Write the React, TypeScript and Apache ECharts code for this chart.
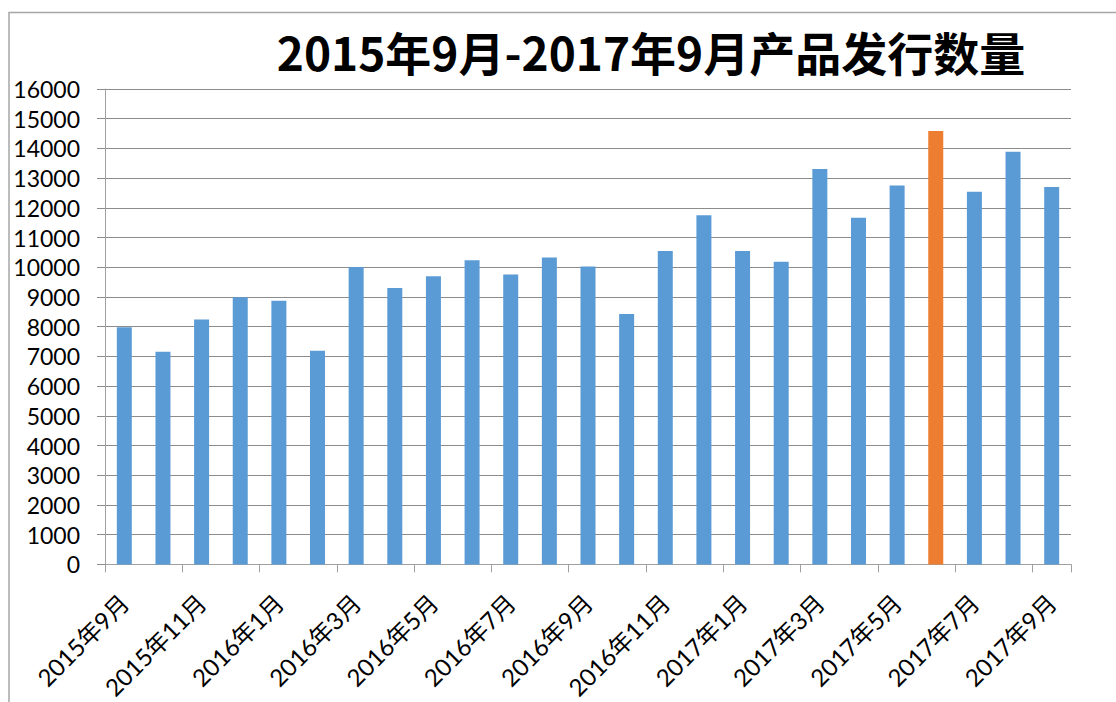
import React, { useEffect, useRef } from "react";
import * as echarts from "echarts";

const TITLE = "2015年9月-2017年9月产品发行数量";
const months: string[] = [
  "2015年9月", "2015年10月", "2015年11月", "2015年12月",
  "2016年1月", "2016年2月", "2016年3月", "2016年4月", "2016年5月", "2016年6月",
  "2016年7月", "2016年8月", "2016年9月", "2016年10月", "2016年11月", "2016年12月",
  "2017年1月", "2017年2月", "2017年3月", "2017年4月", "2017年5月", "2017年6月",
  "2017年7月", "2017年8月", "2017年9月",
];
const issued: number[] = [
  7980, 7160, 8240, 8990, 8870, 7190, 10010, 9300, 9700, 10240,
  9760, 10330, 10030, 8430, 10550, 11750, 10550, 10190, 13310, 11670,
  12750, 14590, 12540, 13890, 12700,
];
const highlightMonth = "2017年6月";
const yMin = 0;
const yMax = 16000;
const yStep = 1000;

const BLUE = "#5B9BD5";
const ORANGE = "#ED7D31";
const FONT = "Lato, 'Noto Sans CJK SC', sans-serif";

export default function App() {
  const ref = useRef<HTMLDivElement>(null);
  useEffect(() => {
    if (!ref.current) return;
    const chart = echarts.init(ref.current, undefined, { renderer: "svg" });
    chart.setOption({
      animation: false,
      backgroundColor: "#ffffff",
      graphic: [
        {
          type: "rect",
          shape: { x: 9, y: 12.5, width: 1300, height: 900 },
          style: { fill: "none", stroke: "#a6a6a6", lineWidth: 1.5 },
          silent: true,
        },
        {
          type: "text",
          x: 651,
          y: 51,
          style: {
            text: TITLE,
            fill: "#000",
            font: `bold 46px 'Noto Sans CJK SC', sans-serif`,
            textAlign: "center",
            textVerticalAlign: "middle",
          },
        },
      ],
      grid: { left: 105, right: 45, top: 89, bottom: 135, containLabel: false },
      xAxis: {
        type: "category",
        data: months,
        boundaryGap: true,
        axisLine: { show: true, lineStyle: { color: "#a0a0a0", width: 1 } },
        axisTick: { show: true, interval: 1, length: 8, lineStyle: { color: "#a0a0a0" } },
        axisLabel: {
          interval: 1,
          rotate: 45,
          margin: 34,
          color: "#000",
          fontSize: 24,
          fontFamily: FONT,
        },
        splitLine: { show: false },
      },
      yAxis: {
        type: "value",
        min: yMin,
        max: yMax,
        interval: yStep,
        axisLine: { show: true, lineStyle: { color: "#a0a0a0", width: 1 } },
        axisTick: { show: true, length: 8, lineStyle: { color: "#8c8c8c" } },
        axisLabel: {
          color: "#000",
          fontSize: 23,
          fontFamily: FONT,
          margin: 25,
          formatter: (v: number) => String(v),
        },
        splitLine: { show: true, lineStyle: { color: "#8c8c8c", width: 1 } },
      },
      series: [
        {
          type: "bar",
          barWidth: 15,
          data: issued.map((v, i) => ({
            value: v,
            itemStyle: { color: months[i] === highlightMonth ? ORANGE : BLUE },
          })),
        },
      ],
    });
    return () => chart.dispose();
  }, []);
  return (
    <div
      ref={ref}
      style={{ position: "fixed", left: 0, top: 0, width: 1116, height: 702 }}
    />
  );
}
